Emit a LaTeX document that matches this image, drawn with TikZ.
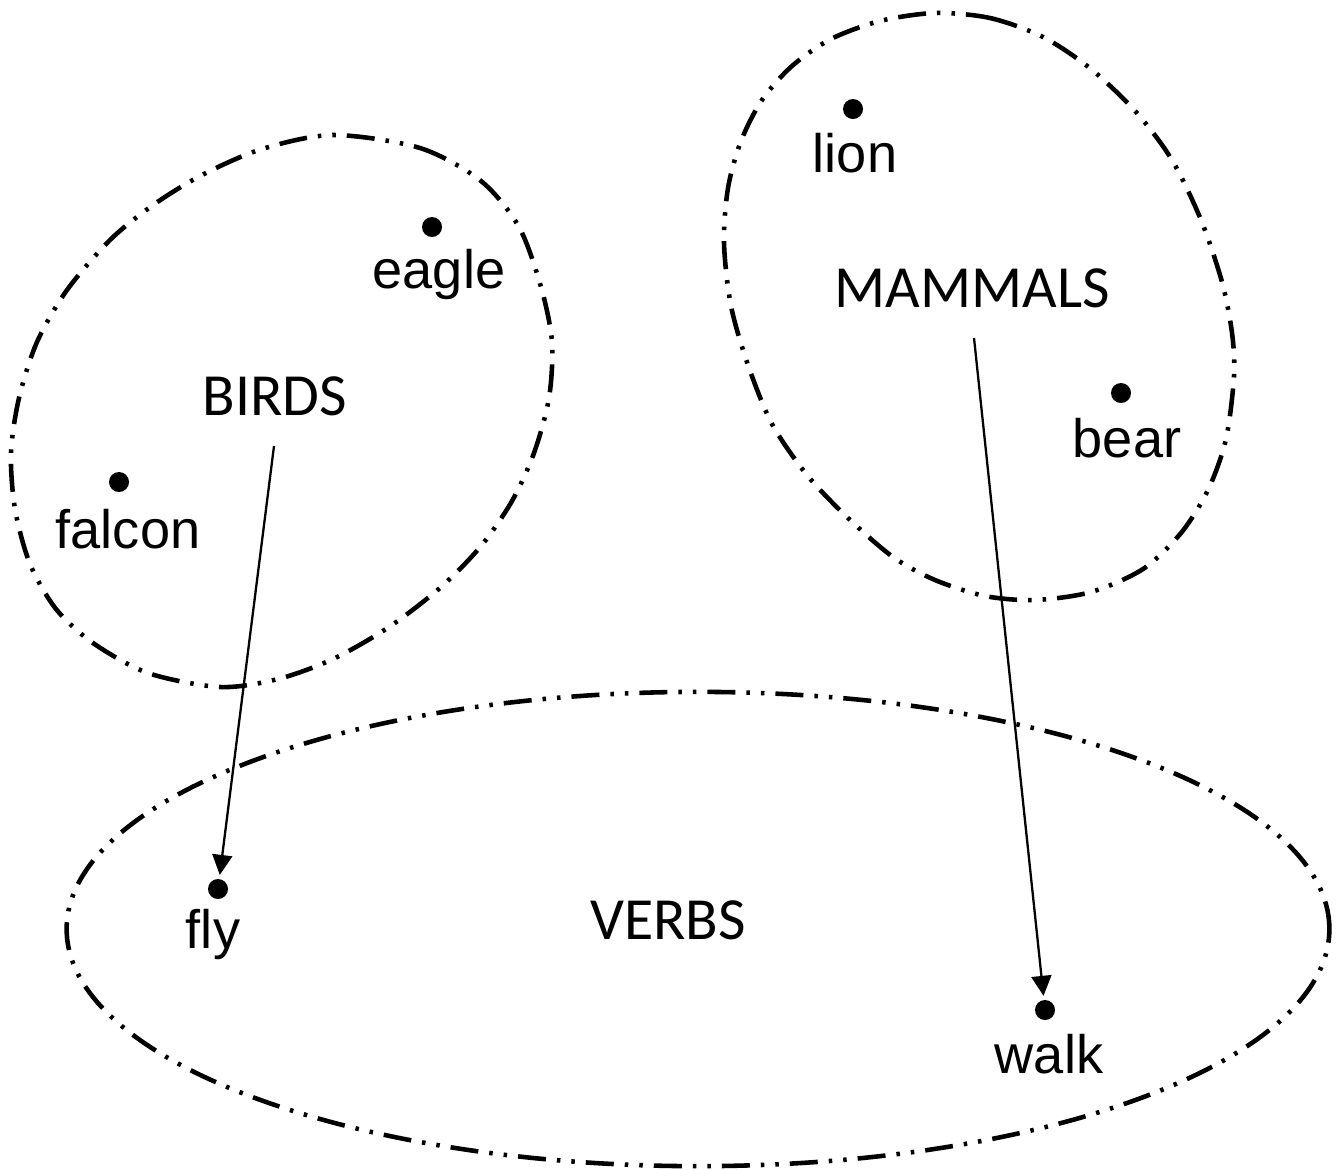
\documentclass[tikz,border=0pt]{standalone}
\usepackage{fontspec}
\setmainfont{Liberation Sans}
\newfontfamily\calib{Carlito}
\usetikzlibrary{arrows.meta}
\tikzset{
  setline/.style={line width=1.3pt, dash pattern=on 0.28cm off 0.11cm on 0.035cm off 0.11cm on 0.035cm off 0.11cm},
  dotn/.style={circle, fill=black, inner sep=0pt, minimum size=0.2cm},
  lbl/.style={anchor=base, inner sep=0pt, font=\fontsize{15.4pt}{18pt}\selectfont},
  cat/.style={anchor=base, inner sep=0pt, font=\calib\fontsize{17pt}{20pt}\selectfont},
  arr/.style={line width=0.65pt, -{Triangle[length=0.2cm, width=0.2cm]}, shorten >=1pt}
}
\begin{document}
\begin{tikzpicture}[x=0.01cm, y=-0.01cm]
\useasboundingbox (0,0) rectangle (1337,1169);
% sets
\draw[setline] plot[smooth cycle, tension=0.5] coordinates {
 (333,135) (420,148) (481,181) (519,227) (541,287) (552,342) (549,398) (534,453)
 (512,501) (481,546) (441,587) (389,627) (333,659) (278,679) (220,687) (148,673)
 (93,643) (56,609) (30,564) (15,509) (11,453) (19,398) (37,342) (67,290)
 (111,239) (156,203) (204,174) (262,149)};
\draw[setline] plot[smooth cycle, tension=0.5] coordinates {
 (935,13) (990,18) (1043,37) (1091,69) (1136,112) (1172,160) (1201,220) (1222,282)
 (1232,333) (1234,376) (1226,439) (1208,490) (1181,533) (1143,569) (1091,592)
 (1035,600) (985,596) (935,580) (893,557) (848,518) (807,475) (772,424)
 (748,365) (731,306) (724,243) (728,188) (741,141) (762,100) (792,66) (831,39) (880,21)};
\draw[setline] (698,929) ellipse [x radius=6.31cm, y radius=2.37cm];
% dots
\node[dotn] (eagledot) at (432,227) {};
\node[dotn] (falcondot) at (119,482) {};
\node[dotn] (liondot) at (853,109) {};
\node[dotn] (beardot) at (1121,393) {};
\node[dotn] (flydot) at (218,889) {};
\node[dotn] (walkdot) at (1045,1010) {};
% labels
\node[lbl] (eaglelbl) at (439,288) {eagle};
\node[lbl] (falconlbl) at (128,548) {falcon};
\node[lbl] (lionlbl) at (855,172) {lion};
\node[lbl] (bearlbl) at (1127,457) {bear};
\node[lbl] (flylbl) at (213,948) {fly};
\node[lbl] (walklbl) at (1049,1073) {walk};
\node[cat] (birds) at (275,415) {BIRDS};
\node[cat] (mammals) at (972,307) {MAMMALS};
\node[cat] (verbs) at (668,939) {VERBS};
% arrows
\coordinate (birdsout) at (274,446);
\coordinate (mammalsout) at (974,338);
\draw[arr] (birdsout) -- (flydot);
\draw[arr] (mammalsout) -- (walkdot);
\end{tikzpicture}
\end{document}
